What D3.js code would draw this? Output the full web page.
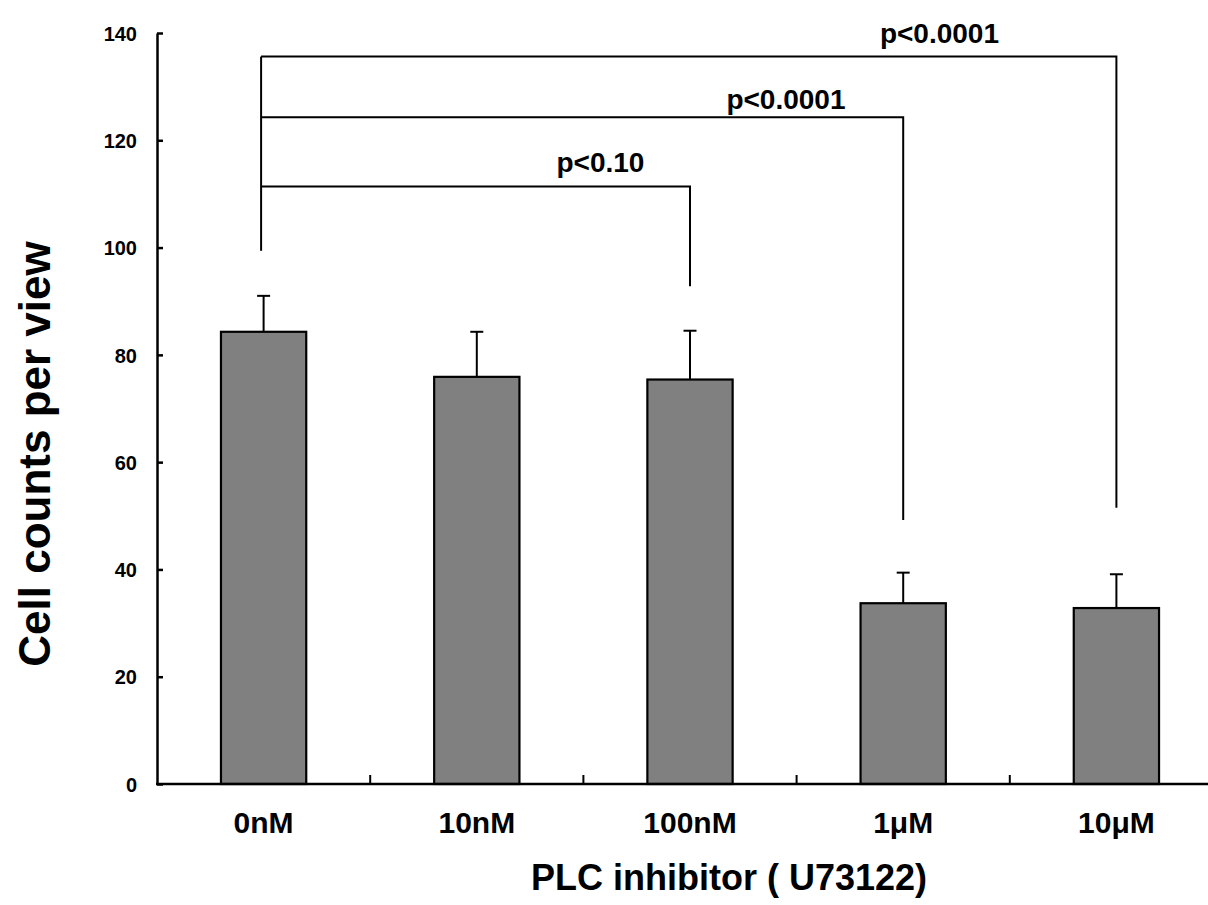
<!DOCTYPE html>
<html>
<head>
<meta charset="utf-8">
<script src="https://cdn.jsdelivr.net/npm/d3@7"></script>
<style>
    body { margin: 0; background: #fff; }
    svg text { font-family: Arial, 'Liberation Sans', sans-serif; font-weight: bold; fill: #000; }
</style>
</head>
<body>
<div id="chart"></div>
<script>
// values
const doses = ['0nM', '10nM', '100nM', '1\u03bcM', '10\u03bcM'];
const cellCounts = [84.3, 75.9, 75.4, 33.7, 32.8];
const errorTops = [91.0, 84.3, 84.5, 39.4, 39.1];
const yTicks = [0, 20, 40, 60, 80, 100, 120, 140];

// significance brackets: from 0nM to the target dose
const compTargets = ['100nM', '1\u03bcM', '10\u03bcM'];
const compLevels = [111.4, 124.3, 135.6];
const compEnds = [92.8, 49.2, 51.5];
const compLabels = ['p<0.10', 'p<0.0001', 'p<0.0001'];
const compLabelPos = [1.58, 2.45, 3.17];
const compLabelY = [114.0, 125.8, 138.1];
const bracketStartBottom = 99.4;

window.onload = () => {
    const w = 1208;
    const h = 905;

    const svg = d3.select('#chart')
        .append('svg')
        .attr('width', w)
        .attr('height', h);

    const x = d3.scaleBand()
        .domain(doses)
        .range([157, 1223])
        .paddingInner(0.6)
        .paddingOuter(0.3);

    const y = d3.scaleLinear()
        .domain([0, 140])
        .range([784, 33]);

    const cx = d => x(d) + x.bandwidth() / 2;
    const labelX = d3.scaleLinear()
        .domain([0, doses.length - 1])
        .range([cx(doses[0]), cx(doses[doses.length - 1])]);

    // bars
    svg.selectAll('rect.bar')
        .data(doses)
        .enter()
        .append('rect')
        .attr('class', 'bar')
        .attr('x', d => x(d))
        .attr('y', (d, i) => y(cellCounts[i]))
        .attr('width', x.bandwidth())
        .attr('height', (d, i) => y(0) - y(cellCounts[i]))
        .attr('fill', '#808080')
        .attr('stroke', '#000')
        .attr('stroke-width', 2.2);

    // error bars (upper only)
    const err = svg.selectAll('g.err')
        .data(doses)
        .enter()
        .append('g')
        .attr('class', 'err')
        .attr('stroke', '#000')
        .attr('stroke-width', 2);

    err.append('line')
        .attr('x1', d => cx(d))
        .attr('x2', d => cx(d))
        .attr('y1', (d, i) => y(cellCounts[i]))
        .attr('y2', (d, i) => y(errorTops[i]));

    err.append('line')
        .attr('x1', d => cx(d) - 6.5)
        .attr('x2', d => cx(d) + 6.5)
        .attr('y1', (d, i) => y(errorTops[i]))
        .attr('y2', (d, i) => y(errorTops[i]));

    // y axis
    const yAxis = svg.append('g')
        .attr('transform', `translate(${x.range()[0]},0)`)
        .call(d3.axisLeft(y)
            .tickValues(yTicks)
            .tickSizeInner(-6)
            .tickSizeOuter(0)
            .tickPadding(20));

    yAxis.select('.domain').attr('stroke-width', 2.5);
    yAxis.selectAll('.tick line').attr('stroke-width', 2.5);
    yAxis.selectAll('.tick text')
        .style('font-size', '20px')
        .attr('dy', '0.36em');

    // x axis line with ticks between groups
    const xAxis = svg.append('g').attr('class', 'x-axis');
    xAxis.append('line')
        .attr('x1', x.range()[0] - 1)
        .attr('x2', x.range()[1])
        .attr('y1', y(0))
        .attr('y2', y(0))
        .attr('stroke', '#000')
        .attr('stroke-width', 2.5);

    xAxis.selectAll('line.xtick')
        .data(doses.slice(1))
        .enter()
        .append('line')
        .attr('class', 'xtick')
        .attr('x1', d => x(d) - x.step() * x.paddingInner() / 2)
        .attr('x2', d => x(d) - x.step() * x.paddingInner() / 2)
        .attr('y1', y(0))
        .attr('y2', y(0) - 9)
        .attr('stroke', '#000')
        .attr('stroke-width', 2);

    xAxis.selectAll('text')
        .data(doses)
        .enter()
        .append('text')
        .attr('x', d => cx(d))
        .attr('y', 833)
        .attr('text-anchor', 'middle')
        .style('font-size', '30px')
        .text(d => d);

    // significance brackets
    const brackets = svg.append('g')
        .attr('stroke', '#000')
        .attr('stroke-width', 2)
        .attr('fill', 'none');

    brackets.append('line')
        .attr('x1', cx(doses[0]) - 2.5)
        .attr('x2', cx(doses[0]) - 2.5)
        .attr('y1', y(d3.max(compLevels)))
        .attr('y2', y(bracketStartBottom));

    brackets.selectAll('path')
        .data(compTargets)
        .enter()
        .append('path')
        .attr('d', (d, i) => {
            const x0 = cx(doses[0]) - 2.5;
            const x1 = cx(d);
            return `M${x0},${y(compLevels[i])}H${x1}V${y(compEnds[i])}`;
        });

    svg.selectAll('text.pval')
        .data(compLabels)
        .enter()
        .append('text')
        .attr('class', 'pval')
        .attr('x', (d, i) => labelX(compLabelPos[i]))
        .attr('y', (d, i) => y(compLabelY[i]))
        .attr('text-anchor', 'middle')
        .style('font-size', '28px')
        .text(d => d);

    // axis titles
    svg.append('text')
        .attr('x', 729)
        .attr('y', 890)
        .attr('text-anchor', 'middle')
        .style('font-size', '36px')
        .text('PLC inhibitor ( U73122)');

    svg.append('text')
        .attr('transform', 'translate(50,454) rotate(-90)')
        .attr('text-anchor', 'middle')
        .style('font-size', '44px')
        .text('Cell counts per view');
};
</script>
</body>
</html>
